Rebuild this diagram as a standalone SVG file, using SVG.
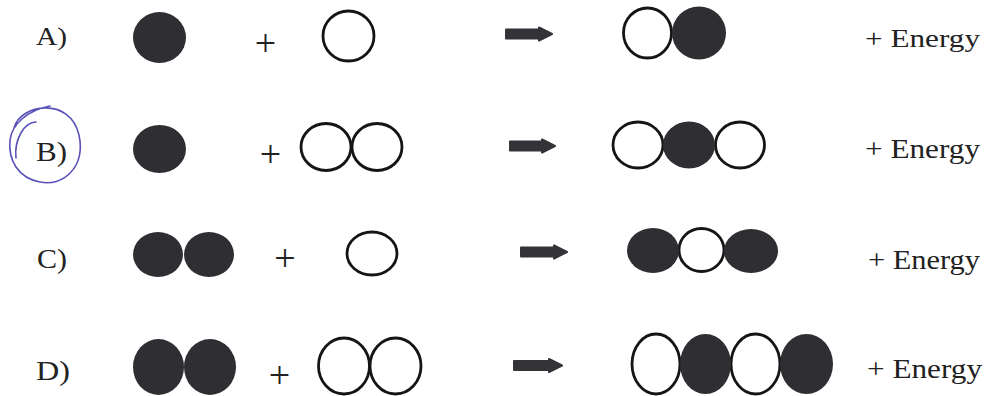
<svg xmlns="http://www.w3.org/2000/svg" width="988" height="396" viewBox="0 0 988 396">
<style>
text{font-family:'Liberation Serif','Times New Roman',serif;fill:#222;}
.pl{font-size:38px;text-anchor:middle;}
.f{fill:#2e2e33;}
.o{fill:#fff;stroke:#151515;stroke-width:2.8;}
.arr{fill:#333338;stroke:#333338;stroke-width:2;stroke-linejoin:round;}
.pen{fill:none;stroke:#5a52b8;stroke-width:1.6;stroke-linecap:round;}
</style>
<rect width="988" height="396" fill="#fff"/>
<g id="rowA">
<text x="36" y="45" font-size="26" textLength="31" lengthAdjust="spacingAndGlyphs">A)</text>
<ellipse class="f" cx="159.5" cy="37.5" rx="26.5" ry="25.5"/>
<text class="pl" x="265.5" y="56">+</text>
<ellipse class="o" cx="348.5" cy="36" rx="25.5" ry="25"/>
<ellipse class="o" cx="647.5" cy="33" rx="24" ry="25"/>
<ellipse class="f" cx="699" cy="33" rx="27" ry="26.5"/>
<text x="865" y="47" font-size="26" textLength="115" lengthAdjust="spacingAndGlyphs">+ Energy</text>
</g>
<g id="rowB">
<path class="pen" d="M14 128 C20 104 70 96 79 135 C86 168 62 187 40 182 C18 178 8 160 10 140 C12 124 28 110 50 106"/>
<path class="pen" d="M36 122 C24 122 14 140 16 158"/>
<text x="36" y="161" font-size="28" textLength="31" lengthAdjust="spacingAndGlyphs">B)</text>
<ellipse class="f" cx="159.5" cy="149" rx="26.5" ry="24"/>
<text class="pl" x="270.5" y="167">+</text>
<ellipse class="o" cx="326" cy="147" rx="25" ry="23.5"/>
<ellipse class="o" cx="377" cy="147" rx="25" ry="23.5"/>
<ellipse class="o" cx="638" cy="145" rx="25" ry="23"/>
<ellipse class="o" cx="740" cy="145" rx="24.5" ry="23"/>
<ellipse class="f" cx="689" cy="145" rx="26" ry="23.5"/>
<text x="865" y="158" font-size="28" textLength="115" lengthAdjust="spacingAndGlyphs">+ Energy</text>
</g>
<g id="rowC">
<text x="37" y="268" font-size="27" textLength="30" lengthAdjust="spacingAndGlyphs">C)</text>
<ellipse class="f" cx="158" cy="254.5" rx="25" ry="22.5"/>
<ellipse class="f" cx="209" cy="254.5" rx="25" ry="22.5"/>
<text class="pl" x="285" y="271">+</text>
<ellipse class="o" cx="372" cy="253.5" rx="25" ry="21.5"/>
<ellipse class="o" cx="701.5" cy="250" rx="22.5" ry="21.5"/>
<ellipse class="f" cx="653" cy="250.5" rx="26" ry="22.5"/>
<ellipse class="f" cx="751" cy="251" rx="27" ry="22"/>
<text x="868" y="269" font-size="27" textLength="112" lengthAdjust="spacingAndGlyphs">+ Energy</text>
</g>
<g id="rowD">
<text x="36" y="380" font-size="27" textLength="34" lengthAdjust="spacingAndGlyphs">D)</text>
<ellipse class="f" cx="158.5" cy="367" rx="25.5" ry="28"/>
<ellipse class="f" cx="210" cy="367" rx="26" ry="28"/>
<text class="pl" x="279.5" y="388">+</text>
<ellipse class="o" cx="344" cy="366" rx="25.5" ry="28"/>
<ellipse class="o" cx="395.5" cy="366" rx="25.5" ry="28"/>
<ellipse class="o" cx="656" cy="364" rx="24" ry="30"/>
<ellipse class="o" cx="755.5" cy="364" rx="24.5" ry="30"/>
<ellipse class="f" cx="705.5" cy="364" rx="25.5" ry="30"/>
<ellipse class="f" cx="806.5" cy="364" rx="26.5" ry="30"/>
<text x="867" y="378" font-size="28" textLength="115" lengthAdjust="spacingAndGlyphs">+ Energy</text>
</g>
<g id="connectors">
<path class="arr" d="M506 29.5 H539 V27.5 L552 34 L539 40.5 V38.5 H506 Z"/>
<path class="arr" d="M510 141.5 H542 V139.5 L555 146 L542 152.5 V150.5 H510 Z"/>
<path class="arr" d="M521 247.5 H554 V245.5 L567 252 L554 258.5 V256.5 H521 Z"/>
<path class="arr" d="M514 361 H549 V359 L562 365.5 L549 372 V370 H514 Z"/>
</g>
</svg>
